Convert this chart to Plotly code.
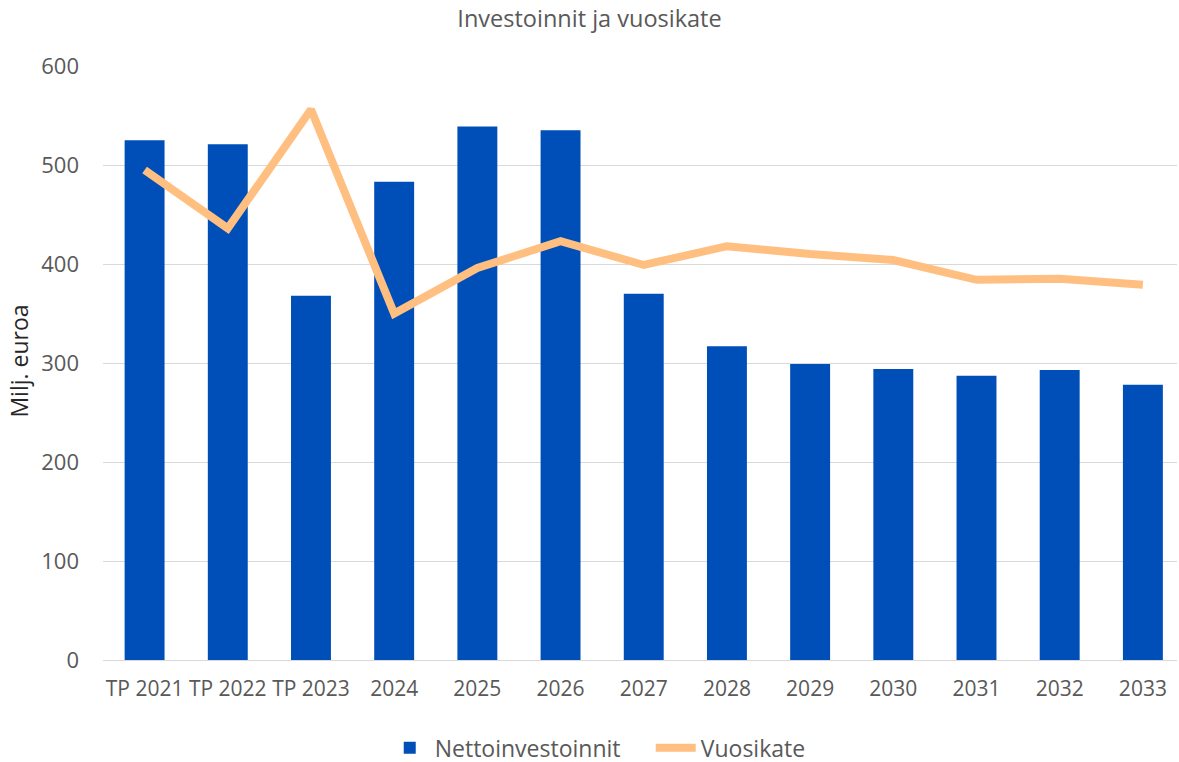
import plotly.graph_objects as go

categories = ["TP 2021", "TP 2022", "TP 2023", "2024", "2025", "2026", "2027",
              "2028", "2029", "2030", "2031", "2032", "2033"]
nettoinvestoinnit = [525, 521, 368, 483, 539, 535, 370, 317, 299, 294, 287, 293, 278]
vuosikate = [495, 436, 556, 350, 396, 423, 399, 418, 410, 404, 384, 385, 379]

FONT = "Open Sans"
GRAY = "#595959"

FIG_W = 1179
FIG_H = 770
LEFT = 103
TOP = 66
PLOT_H = 595

fig = go.Figure()
fig.add_trace(go.Bar(
    x=categories, y=nettoinvestoinnit, name="Nettoinvestoinnit",
    marker=dict(color="#004FB8", line=dict(width=0)),
))
fig.add_trace(go.Scatter(
    x=categories, y=vuosikate, name="Vuosikate", mode="lines",
    line=dict(color="#FFBF80", width=8),
))

fig.update_layout(
    width=FIG_W, height=FIG_H,
    paper_bgcolor="white", plot_bgcolor="white",
    margin=dict(l=LEFT, r=2, t=TOP, b=FIG_H - TOP - PLOT_H),
    bargap=0.52,
    title=dict(text="Investoinnit ja vuosikate", x=0.5, xanchor="center",
               y=1 - 19 / FIG_H, yanchor="middle",
               font=dict(family=FONT, size=23.5, color=GRAY)),
    font=dict(family=FONT, size=22, color=GRAY),
    showlegend=True,
    legend=dict(orientation="h", x=0.51, xanchor="center", y=-0.146, yanchor="middle",
                font=dict(family=FONT, size=23, color=GRAY), itemwidth=40,
                entrywidth=211),
    xaxis=dict(showgrid=False, showline=True, linecolor="#d9d9d9", linewidth=1,
               range=[-0.5, 12.41], ticks="", ticklabelstandoff=10,
               tickangle=0, automargin=False,
               tickfont=dict(family=FONT, size=21, color=GRAY)),
    yaxis=dict(range=[0, 600], dtick=100, showgrid=True, gridcolor="#d9d9d9",
               gridwidth=1, zeroline=False, ticks="", ticklabelstandoff=23,
               automargin=False,
               tickfont=dict(family=FONT, size=22, color=GRAY)),
    annotations=[dict(text="Milj. euroa", xref="paper", yref="paper",
                      x=-0.0791, y=0.5025, xanchor="center", yanchor="middle",
                      textangle=-90, showarrow=False,
                      font=dict(family=FONT, size=23, color="#262626"))],
)

fig.write_html("out.html", config={"displayModeBar": False},
               post_script="document.body.style.margin='0';")
